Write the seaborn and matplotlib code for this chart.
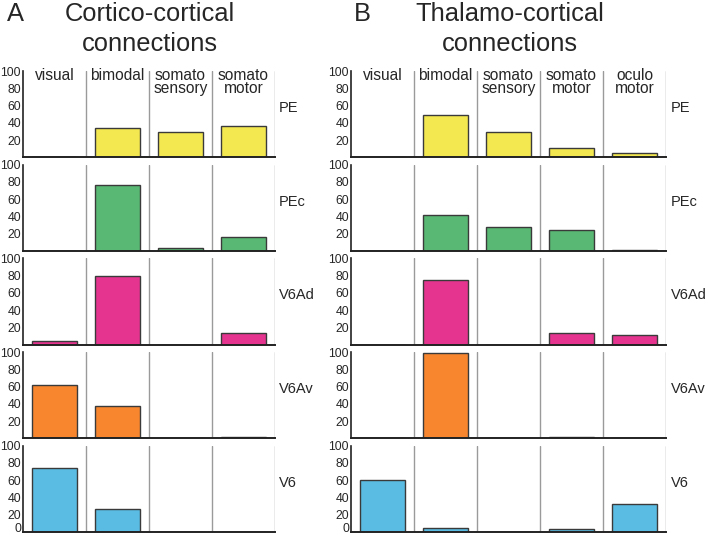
import matplotlib
matplotlib.use("Agg")
import matplotlib.pyplot as plt
import seaborn as sns
import pandas as pd

# column categories
cortico_cols = ["visual", "bimodal", "somato\nsensory", "somato\nmotor"]
thalamo_cols = ["visual", "bimodal", "somato\nsensory", "somato\nmotor", "oculo\nmotor"]
areas = ["PE", "PEc", "V6Ad", "V6Av", "V6"]

# % of connections, cortico-cortical
cortico_PE = [0, 34, 29, 36]
cortico_PEc = [0, 77, 4, 16]
cortico_V6Ad = [4, 79, 0, 14]
cortico_V6Av = [62, 37, 0, 2]
cortico_V6 = [74, 27, 0, 0]

# % of connections, thalamo-cortical
thalamo_PE = [0, 49, 29, 11, 5]
thalamo_PEc = [0, 42, 28, 24, 1]
thalamo_V6Ad = [0, 75, 0, 14, 11]
thalamo_V6Av = [0, 99, 0, 2, 0]
thalamo_V6 = [60, 5, 0, 3, 33]

area_colors = ["#f3e84f", "#59b873", "#e5348f", "#f7862f", "#5bbce3"]

sns.set_theme(style="white")
plt.rcParams["font.family"] = ["Liberation Sans", "DejaVu Sans"]

cortico = [cortico_PE, cortico_PEc, cortico_V6Ad, cortico_V6Av, cortico_V6]
thalamo = [thalamo_PE, thalamo_PEc, thalamo_V6Ad, thalamo_V6Av, thalamo_V6]

fig = plt.figure(figsize=(7.08, 5.36), dpi=100)
gs = fig.add_gridspec(5, 2, width_ratios=[4, 5],
                      left=23 / 708, right=666 / 708,
                      top=1 - 71 / 536, bottom=1 - 532 / 536,
                      wspace=0.268, hspace=0.085)


def draw_panel(col, cols, values):
    for r, (area, vals) in enumerate(zip(areas, values)):
        ax = fig.add_subplot(gs[r, col])
        df = pd.DataFrame({"cat": cols, "pct": vals})
        sns.barplot(data=df, x="cat", y="pct", order=cols, color=area_colors[r],
                    saturation=1, width=0.71, edgecolor="#3a3a3a", linewidth=1.0,
                    ax=ax)
        n = len(cols)
        ax.set_xlim(-0.5, n - 0.5)
        ax.set_ylim(0, 100)
        for i in range(n):
            ax.axvline(i + 0.5, color="#9a9a9a", lw=1.0, zorder=0)
        sns.despine(ax=ax, top=True, right=True)
        ax.spines["left"].set_color("#222222")
        ax.spines["bottom"].set_color("#222222")
        ax.spines["left"].set_linewidth(1.2)
        ax.spines["bottom"].set_linewidth(1.4)
        ax.set_xticks([])
        ax.set_xlabel("")
        ax.set_ylabel("")
        last = r == len(areas) - 1
        if last:
            ax.set_yticks([0, 20, 40, 60, 80, 100])
        else:
            ax.set_yticks([20, 40, 60, 80, 100])
        ax.tick_params(axis="y", direction="in", length=6, width=1.2,
                       color="#222222", labelsize=8.8, pad=1.5)
        if last:
            ax.get_yticklabels()[0].set_verticalalignment("baseline")
        ax.text(1.016, 0.57, area, transform=ax.transAxes, ha="left",
                va="center", fontsize=10.5)
        if r == 0:
            for i, c in enumerate(cols):
                ax.text(i, 103, c, ha="center", va="top", fontsize=11.2,
                        linespacing=0.8)


draw_panel(0, cortico_cols, cortico)
draw_panel(1, thalamo_cols, thalamo)

fig.text(7 / 708, 1 - 2 / 536, "A", ha="left", va="top", fontsize=18.4)
fig.text(150 / 708, 1 - 2 / 536, "Cortico-cortical\nconnections",
         ha="center", va="top", fontsize=18.4, linespacing=1.33)
fig.text(354 / 708, 1 - 2 / 536, "B", ha="left", va="top", fontsize=18.4)
fig.text(510 / 708, 1 - 2 / 536, "Thalamo-cortical\nconnections",
         ha="center", va="top", fontsize=18.4, linespacing=1.33)

fig.savefig("out.png", dpi=100)
